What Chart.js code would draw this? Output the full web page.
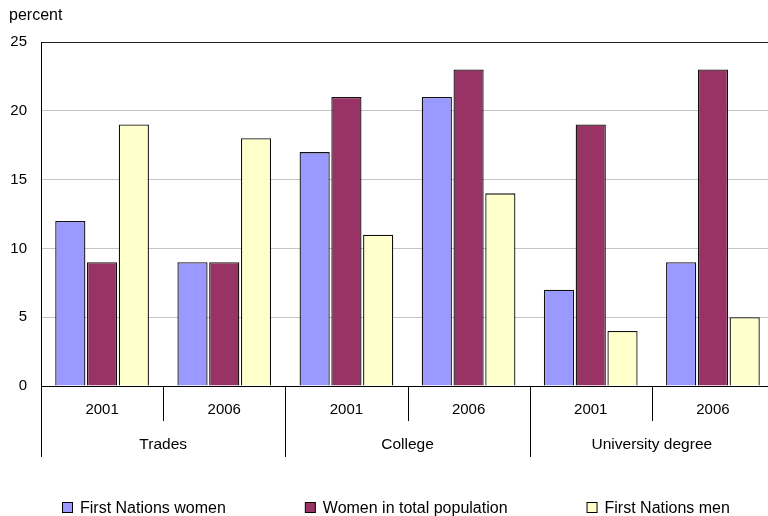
<!DOCTYPE html>
<html>
<head>
<meta charset="utf-8">
<script src="https://cdn.jsdelivr.net/npm/chart.js@4/dist/chart.umd.min.js"></script>
<style>
  html, body { margin: 0; padding: 0; background: #fff; overflow: hidden; }
  #wrap { width: 780px; height: 516px; position: relative; }
</style>
</head>
<body>
<div id="wrap"><canvas id="c"></canvas></div>
<script>
// Education attainment shares, by year within each field
const years = ['2001', '2006', '2001', '2006', '2001', '2006'];
const fields = ['Trades', 'College', 'University degree'];
const firstNationsWomen = [12, 9, 17, 21, 7, 9];
const womenTotalPopulation = [9, 9, 21, 23, 19, 23];
const firstNationsMen = [19, 18, 11, 14, 4, 5];
const yTicks = [0, 5, 10, 15, 20, 25];
const seriesNames = ['First Nations women', 'Women in total population', 'First Nations men'];

const FONT = '"Liberation Sans", Arial, sans-serif';

// Draws the two-level category axis, the unit caption and the legend row
const groupAxis = {
  id: 'groupAxis',
  afterDraw(chart) {
    const x = chart.scales.x;
    const ctx = chart.ctx;
    const y0 = chart.chartArea.bottom;
    const step = x.getPixelForValue(1) - x.getPixelForValue(0);
    ctx.save();
    ctx.strokeStyle = '#000';
    ctx.lineWidth = 1;
    for (let i = 0; i <= years.length; i++) {
      const px = Math.round(x.getPixelForValue(i) - step / 2) + 0.5;
      const long = i % 2 === 0;
      ctx.beginPath();
      ctx.moveTo(px, y0);
      ctx.lineTo(px, y0 + (long ? 71 : 35));
      ctx.stroke();
    }
    ctx.fillStyle = '#000';
    ctx.font = '15.5px ' + FONT;
    ctx.textAlign = 'center';
    ctx.textBaseline = 'middle';
    fields.forEach((f, g) => {
      const cx = (x.getPixelForValue(2 * g) + x.getPixelForValue(2 * g + 1)) / 2;
      ctx.fillText(f, cx, y0 + 59);
    });
    ctx.font = '16px ' + FONT;
    ctx.textAlign = 'left';
    ctx.fillText('percent', 9, 16);

    // legend row
    const ds = chart.data.datasets;
    const box = 10, textGap = 8, gap = 79, ly = 508;
    const widths = ds.map(d => box + textGap + ctx.measureText(d.label).width);
    const total = widths.reduce((a, b) => a + b, 0) + gap * (ds.length - 1);
    let lx = Math.round(396 - total / 2);
    ds.forEach((d, i) => {
      ctx.fillStyle = d.backgroundColor;
      ctx.fillRect(lx + 0.5, ly - 5.5, box, box);
      ctx.strokeStyle = '#000';
      ctx.strokeRect(lx + 0.5, ly - 5.5, box, box);
      ctx.fillStyle = '#000';
      ctx.fillText(d.label, lx + box + textGap, ly + 1);
      lx += widths[i] + gap;
    });
    ctx.restore();
  }
};

const barStyle = { borderColor: '#111', borderWidth: 1.3, barPercentage: 0.95, categoryPercentage: 0.78 };

new Chart(document.getElementById('c'), {
  type: 'bar',
  data: {
    labels: years,
    datasets: [
      Object.assign({ label: seriesNames[0], data: firstNationsWomen, backgroundColor: '#9999FF' }, barStyle),
      Object.assign({ label: seriesNames[1], data: womenTotalPopulation, backgroundColor: '#993366' }, barStyle),
      Object.assign({ label: seriesNames[2], data: firstNationsMen, backgroundColor: '#FFFFCC' }, barStyle)
    ]
  },
  options: {
    responsive: true,
    maintainAspectRatio: false,
    animation: false,
    layout: { padding: { top: 42, right: 6, left: 0, bottom: 0 } },
    plugins: { legend: { display: false }, tooltip: { enabled: false } },
    scales: {
      x: {
        grid: { display: false, drawTicks: false },
        border: { color: '#000', width: 1 },
        ticks: { color: '#000', font: { family: FONT, size: 15 }, padding: 15, maxRotation: 0 },
        afterFit(s) { s.height = 130; }
      },
      y: {
        min: 0, max: 25,
        afterBuildTicks(s) { s.ticks = yTicks.map(v => ({ value: v })); },
        grid: {
          drawTicks: false,
          color: ctx => (ctx.tick && ctx.tick.value === 25 ? '#222' : '#c4c4c4'),
          lineWidth: 1
        },
        border: { color: '#000', width: 1 },
        ticks: { color: '#000', font: { family: FONT, size: 15 }, padding: 14 },
        afterFit(s) { s.width = 41; }
      }
    }
  },
  plugins: [groupAxis]
});
</script>
</body>
</html>
